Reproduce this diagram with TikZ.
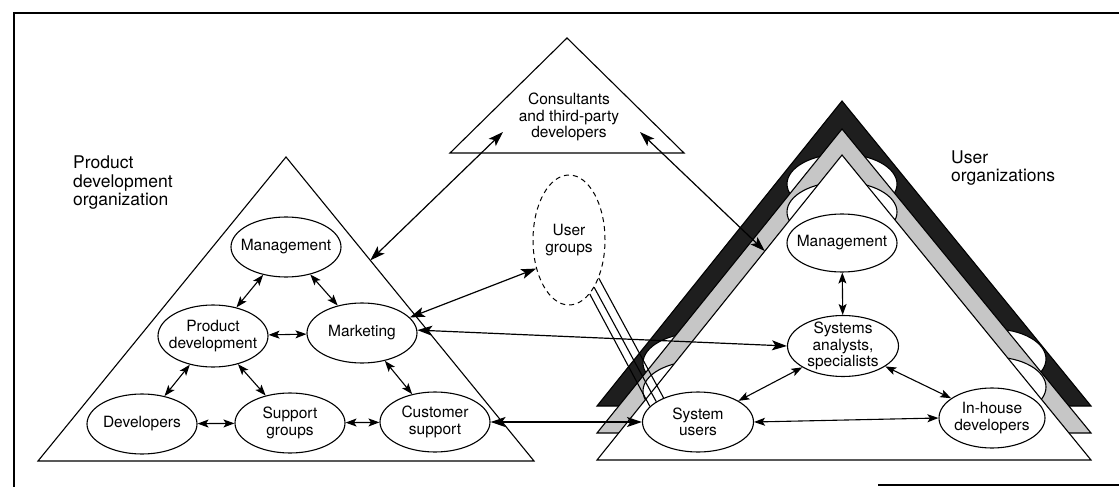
\documentclass[tikz,border=0pt]{standalone}
\usepackage{fontspec}
\setmainfont{TeX Gyre Heros}
\usetikzlibrary{arrows.meta,shapes.geometric,calc}
\newcommand\dgnodefont{\fontsize{15.5}{16.3}\selectfont}
\newcommand\dgtitlefont{\fontsize{17.5}{18.5}\selectfont}
\definecolor{bandblack}{RGB}{30,30,30}
\definecolor{bandgray}{RGB}{198,198,198}

\begin{document}
\begin{tikzpicture}[x=1pt,y=-1pt,
  tri/.style={draw,line width=1.1pt,line join=miter},
  ell/.style={ellipse,draw,fill=white,line width=1.1pt,minimum width=110pt,
    minimum height=60pt,inner xsep=-12pt,inner ysep=-8pt,align=center,font=\dgnodefont},
  bump/.style={ellipse,draw,fill=white,line width=1.1pt,minimum width=110pt,
    minimum height=60pt,inner sep=0pt},
  title/.style={align=left,inner sep=0pt,font=\dgtitlefont},
  link/.style={line width=1.1pt,{Stealth[length=11pt,width=8pt,inset=2.5pt]}-{Stealth[length=11pt,width=8pt,inset=2.5pt]}},
  farlink/.style={line width=1.2pt,{Stealth[length=15pt,width=10pt,inset=3.5pt]}-{Stealth[length=15pt,width=10pt,inset=3.5pt]}},
  plain/.style={line width=1.1pt}]

\useasboundingbox (0,0) rectangle (1119,487);

% frame
\coordinate (f-tl) at (14,13);
\coordinate (f-tr) at (1119,13);
\coordinate (f-bl) at (14,487);
\coordinate (f-b1) at (878,485);
\coordinate (f-b2) at (1119,485);
\draw[line width=2.4pt] (f-tr) -- (f-tl) -- (f-bl);
\draw[line width=2.2pt] (f-b1) -- (f-b2);

% product development organization
\coordinate (L1) at (38,461);
\coordinate (L2) at (534,461);
\coordinate (L3) at (286,157);
\draw[tri] (L1) -- (L2) -- (L3) -- cycle;
\node[title,anchor=west] (pdo) at (73,183) {Product\\development\\organization};

% consultants
\coordinate (C1) at (450,153);
\coordinate (C2) at (684,153);
\coordinate (C3) at (567,38);
\draw[tri] (C1) -- (C2) -- (C3) -- cycle;
\node[align=center,inner sep=0pt,font=\dgnodefont] (ct) at (569,117)
  {Consultants\\and third-party\\developers};

% user organizations: back layer (dark)
\coordinate (B1) at (597,406);
\coordinate (B2) at (1091,406);
\coordinate (B3) at (842,101);
\fill[bandblack] (B1) -- (B2) -- (B3) -- cycle;
\begin{scope}
  \clip (B1) -- (B2) -- (B3) -- cycle;
  \node[bump] (b-rm) at (842,184) {};
  \node[bump] (b-su) at (698,363) {};
  \node[bump,minimum width=106pt] (b-ih) at (993,359) {};
\end{scope}
\draw[tri] (B1) -- (B2) -- (B3) -- cycle;

% user organizations: middle layer (gray)
\coordinate (G1) at (597,433);
\coordinate (G2) at (1091,433);
\coordinate (G3) at (842,129);
\fill[bandgray] (G1) -- (G2) -- (G3) -- cycle;
\begin{scope}
  \clip (G1) -- (G2) -- (G3) -- cycle;
  \node[bump] (g-rm) at (842,212) {};
  \node[bump] (g-su) at (698,391) {};
  \node[bump,minimum width=106pt] (g-ih) at (993,387) {};
\end{scope}
\draw[tri] (G1) -- (G2) -- (G3) -- cycle;

% user organizations: front layer
\coordinate (W1) at (597,460);
\coordinate (W2) at (1091,460);
\coordinate (W3) at (842,155);
\filldraw[tri,fill=white] (W1) -- (W2) -- (W3) -- cycle;
\node[title,anchor=west] (uo) at (951,168) {User\\organizations};

% nodes, product development organization
\node[ell] (lm) at (286,247) {Management};
\node[ell,minimum height=62pt] (pd) at (213,336) {Product\\development};
\node[ell] (mk) at (362,333) {Marketing};
\node[ell] (dv) at (142,424) {Developers};
\node[ell] (sg) at (290,423) {Support\\groups};
\node[ell] (cs) at (435,422) {Customer\\support};

% user groups
\node[ellipse,draw,dashed,dash pattern=on 5pt off 4pt,line width=1pt,
  minimum width=72pt,minimum height=130pt,inner sep=0pt,align=center,
  font=\dgnodefont] (ug) at (569,240) {User\\groups};

% nodes, user organizations
\node[ell,minimum height=58pt] (rm) at (842,243) {Management};
\node[ell,minimum width=111pt,minimum height=61pt] (sa) at (843,346) {Systems\\analysts,\\specialists};
\node[ell,minimum width=111pt] (su) at (698,422) {System\\users};
\node[ell,minimum width=106pt] (ih) at (992,418) {In-house\\developers};

% links inside the product development organization
\draw[link] (lm) -- (pd);
\draw[link] (lm) -- (mk);
\draw[link] (pd) -- (mk);
\draw[link] (pd) -- (dv);
\draw[link] (pd) -- (sg);
\draw[link] (mk) -- (cs);
\draw[link] (dv) -- (sg);
\draw[link] (sg) -- (cs);

% links inside the user organizations
\draw[link] (rm) -- (sa);
\draw[link] (sa) -- (su);
\draw[link] (sa) -- (ih);
\draw[link] (su.east) -- (ih.west);

% links between the groups
\coordinate (lt-e) at ($(L3)!0.34!(L2)$);
\coordinate (ct-l) at (503,132);
\coordinate (rt-e) at ($(W3)!0.315!(W1)$);
\coordinate (ct-r) at (640,132);
\draw[farlink] (lt-e) -- (ct-l);
\draw[farlink] (rt-e) -- (ct-r);
\draw[farlink] (mk.18) -- (ug.221);
\draw[farlink] (mk.3) -- (sa.west);
\draw[farlink] (cs.east) -- (su.west);

% user groups to system users
\draw[plain] (ug.-52.6) -- (su.145.2);
\draw[plain] (ug.-62) -- (su.154.5);
\draw[plain] (ug.-69.3) -- (su.162.5);
\end{tikzpicture}
\end{document}
